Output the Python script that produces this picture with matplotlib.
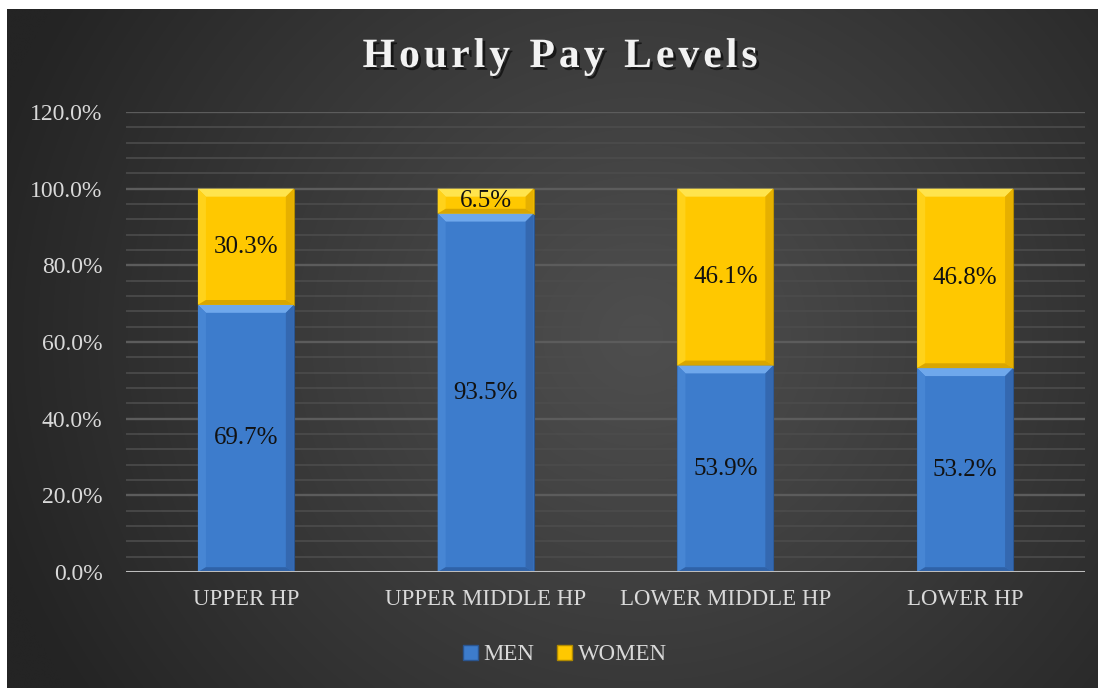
import numpy as np
import matplotlib
matplotlib.use("Agg")
import matplotlib.pyplot as plt
from matplotlib.patches import Polygon, Rectangle
import matplotlib.patheffects as pe

categories = ["UPPER HP", "UPPER MIDDLE HP", "LOWER MIDDLE HP", "LOWER HP"]
men = [0.697, 0.935, 0.539, 0.532]
women = [0.303, 0.065, 0.461, 0.468]
series_names = ["MEN", "WOMEN"]
yticks = [0.0, 0.2, 0.4, 0.6, 0.8, 1.0, 1.2]
title = "Hourly Pay Levels"

FONT = ["Liberation Serif", "DejaVu Serif"]
W, H = 1106, 688
fig = plt.figure(figsize=(W / 100, H / 100), dpi=100)
fig.patch.set_facecolor("white")

# background radial gradient in chart area
bg = fig.add_axes([7 / W, 0, (1098 - 7) / W, (H - 9) / H])
bg.set_axis_off()
ny, nx = 300, 480
yy, xx = np.mgrid[0:ny, 0:nx]
cx, cy = nx * 0.58, ny * 0.48
r = np.sqrt(((xx - cx) / nx) ** 2 + ((yy - cy) / ny * 0.65) ** 2)
r = np.clip(r / 0.62, 0, 1)
inner, outer = 0x4e / 255, 0x24 / 255
val = inner + (outer - inner) * r ** 1.1
img = np.dstack([val, val, val])
bg.imshow(img, aspect="auto", extent=[0, 1, 0, 1], interpolation="bicubic")
bg.set_xlim(0, 1); bg.set_ylim(0, 1)

ax = fig.add_axes([126 / W, 1 - 572 / H, (1085 - 126) / W, (572 - 112) / H])
ax.set_facecolor("none")
ax.set_ylim(0, 1.2)
ax.set_xlim(-0.5, len(categories) - 0.5)
x = np.arange(len(categories))
width = 0.4

# gridlines
for v in np.arange(0.04, 1.2001, 0.04):
    major = abs(v / 0.2 - round(v / 0.2)) < 1e-6
    ax.axhline(v, color="#5c5c5c" if major else "#4c4c4c",
               lw=1.7 if major else 1.2, zorder=0)
ax.axhline(0, color="#bdbdbd", lw=2.2, zorder=5)

blue = "#3d7ccc"
gold = "#ffc800"
b1 = ax.bar(x, men, width, color=blue, edgecolor="#2a5590", lw=0.8, zorder=2)
b2 = ax.bar(x, women, width, bottom=men, color=gold, edgecolor="#b08a00", lw=0.8, zorder=2)

# bevel overlays derived from bar geometry
bx = 8 / 240
by = 8 / (460 / 1.2)
def bevel(patch, top_c, left_c, right_c, bot_c):
    x0, y0 = patch.get_x(), patch.get_y()
    w, h = patch.get_width(), patch.get_height()
    x1, y1 = x0 + w, y0 + h
    dy = min(by, h / 3)
    polys = [
        ([(x0, y1), (x1, y1), (x1 - bx, y1 - dy), (x0 + bx, y1 - dy)], top_c),
        ([(x0, y0), (x0, y1), (x0 + bx, y1 - dy), (x0 + bx, y0 + dy * 0.6)], left_c),
        ([(x1, y0), (x1, y1), (x1 - bx, y1 - dy), (x1 - bx, y0 + dy * 0.6)], right_c),
        ([(x0, y0), (x1, y0), (x1 - bx, y0 + dy * 0.6), (x0 + bx, y0 + dy * 0.6)], bot_c),
    ]
    for pts, c in polys:
        ax.add_patch(Polygon(pts, closed=True, facecolor=c, edgecolor="none", zorder=3))

for p in b1:
    bevel(p, "#6fa8ec", "#4786d4", "#3468b0", "#2f62a8")
for p in b2:
    bevel(p, "#ffe44d", "#ffd21a", "#e6b000", "#d9a600")

# data labels
for i in range(len(categories)):
    ax.text(x[i], men[i] / 2, f"{men[i]*100:.1f}%", ha="center", va="center",
            fontsize=18, family=FONT, color="#111111", zorder=6)
    ax.text(x[i], men[i] + women[i] / 2, f"{women[i]*100:.1f}%", ha="center", va="center",
            fontsize=18, family=FONT, color="#111111", zorder=6)

ax.set_yticks(yticks)
ax.set_yticklabels([f"{v*100:.1f}%" for v in yticks], family=FONT, fontsize=17, color="#d9d9d9")
ax.set_xticks(x)
ax.set_xticklabels(categories, family=FONT, fontsize=16.5, color="#d9d9d9")
ax.tick_params(axis="both", length=0)
ax.tick_params(axis="y", pad=17)
ax.tick_params(axis="x", pad=12)
for s in ax.spines.values():
    s.set_visible(False)

# title with letter spacing
fig.canvas.draw()
renderer = fig.canvas.get_renderer()
tfs = 30
spacing = 4.0
shadow = [pe.withSimplePatchShadow(offset=(2, -2), shadow_rgbFace="black", alpha=0.6)]
widths = []
for ch in title:
    t = fig.text(0, 0, ch if ch != " " else "n", fontsize=tfs, fontweight="bold", family=FONT)
    wpx = t.get_window_extent(renderer).width
    if ch == " ":
        wpx *= 0.5
    widths.append(wpx)
    t.remove()
total = sum(widths) + spacing * (len(title) - 1)
xpos = 560 - total / 2
for ch, wpx in zip(title, widths):
    if ch != " ":
        fig.text(xpos / W, 1 - 57 / H, ch, ha="left", va="center",
                 fontsize=tfs, fontweight="bold", family=FONT, color="#f2f2f2",
                 path_effects=shadow)
    xpos += wpx + spacing

# legend
handles = [Rectangle((0, 0), 1, 1, facecolor=blue, edgecolor="#2a5590"),
           Rectangle((0, 0), 1, 1, facecolor=gold, edgecolor="#b08a00")]
leg = fig.legend(handles, series_names, loc="center", bbox_to_anchor=(565 / W, 1 - 655 / H),
                 ncol=2, frameon=False, prop={"family": FONT, "size": 16.5},
                 handlelength=0.65, handleheight=0.65, handletextpad=0.25, columnspacing=1.0)
for t in leg.get_texts():
    t.set_color("#d9d9d9")

fig.savefig("out.png", dpi=100, facecolor=fig.get_facecolor())
